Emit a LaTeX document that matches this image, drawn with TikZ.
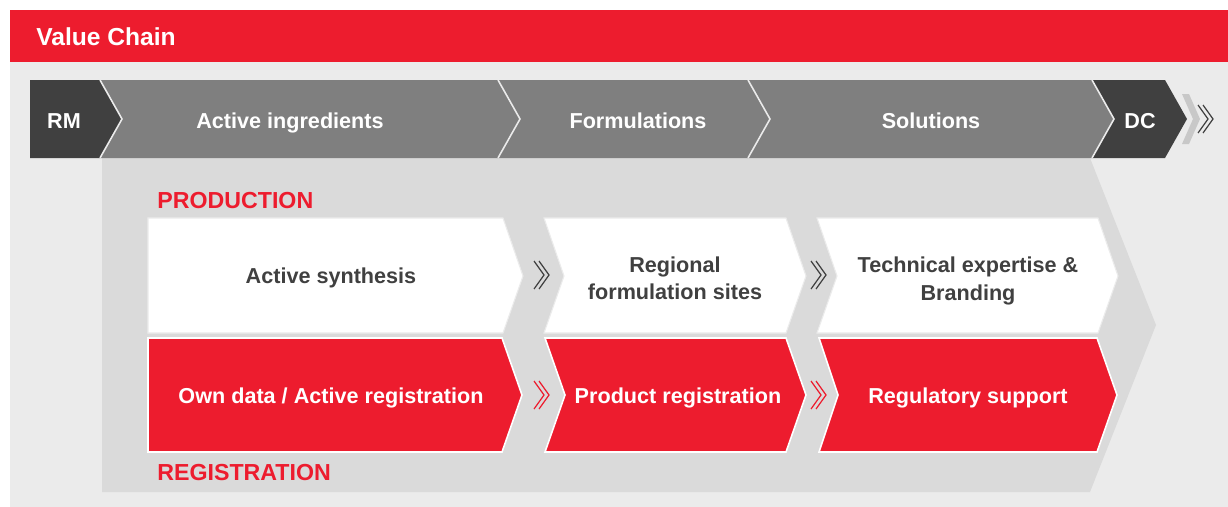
\documentclass[tikz,border=0pt]{standalone}
\usepackage{fontspec}
\setmainfont{Liberation Sans}
\usetikzlibrary{positioning}

\definecolor{vcred}{RGB}{237,28,46}
\definecolor{vcdark}{RGB}{64,64,64}
\definecolor{vcmid}{RGB}{127,127,127}
\definecolor{vcpanel}{RGB}{235,235,235}
\definecolor{vcarrow}{RGB}{218,218,218}
\definecolor{vcchev}{RGB}{200,200,200}

\tikzset{
  steplbl/.style={text=white, text height=8.8pt, text depth=0pt, font=\bfseries\fontsize{12.3}{14.5}\selectfont},
  boxlbl/.style={text=vcdark, align=center, font=\bfseries\fontsize{12.3}{15.5}\selectfont},
  onelbl/.style={text height=8.8pt, text depth=0pt},
  redlbl/.style={text=white, align=center, text height=8.8pt, text depth=0pt, font=\bfseries\fontsize{12.3}{15.5}\selectfont},
  rowhead/.style={anchor=west, inner sep=0pt, text=vcred, text height=9.5pt, text depth=0pt, font=\bfseries\fontsize{13.2}{15}\selectfont},
  whitebox/.style={fill=white, draw=vcpanel, line width=0.6pt},
  redbox/.style={fill=vcred, draw=white, line width=0.9pt},
  sepline/.style={draw=vcpanel, line width=0.9pt},
  dblchev/.pic={
    \draw[line width=0.7pt] (0,-14) -- (10,0) -- (0,14);
    \draw[line width=0.7pt] (5,-14) -- (15,0) -- (5,14);
  }
}

\begin{document}
\begin{tikzpicture}[x=0.02cm,y=-0.02cm]
  \useasboundingbox (0,0) rectangle (1228,507);
  % Background
  \fill[vcpanel] (10,62) rectangle (1228,507);
  \fill[vcred] (10,10) rectangle (1228,62);
  \node[anchor=west, inner sep=0pt, text=white, text height=10pt, text depth=0pt, font=\bfseries\fontsize{14}{16}\selectfont] (title) at (36,37) {Value Chain};

  % Big arrow behind the boxes
  \fill[vcarrow] (102,158) -- (1090,158) -- (1156,325) -- (1090,492) -- (102,492) -- cycle;

  % Top chain
  \fill[vcdark] (30,80) -- (100,80) -- (122,119) -- (100,158) -- (30,158) -- cycle;
  \fill[vcmid] (100,80) -- (498,80) -- (520,119) -- (498,158) -- (100,158) -- (122,119) -- cycle;
  \fill[vcmid] (498,80) -- (748,80) -- (770,119) -- (748,158) -- (498,158) -- (520,119) -- cycle;
  \fill[vcmid] (748,80) -- (1092,80) -- (1114,119) -- (1092,158) -- (748,158) -- (770,119) -- cycle;
  \fill[vcdark] (1092,80) -- (1165,80) -- (1187,119) -- (1165,158) -- (1092,158) -- (1114,119) -- cycle;
  \foreach \x in {100,498,748,1092}
    \draw[sepline] (\x,80) -- (\x+22,119) -- (\x,158);
  \fill[vcchev] (1182,94) -- (1189,94) -- (1200,119) -- (1189,144) -- (1182,144) -- (1193,119) -- cycle;
  \pic[color=vcdark] (endchev) at (1198,119) {dblchev};

  \node[steplbl] (rm) at (64,121) {RM};
  \node[steplbl] (active) at (290,121) {Active ingredients};
  \node[steplbl] (form) at (638,121) {Formulations};
  \node[steplbl] (sol) at (931,121) {Solutions};
  \node[steplbl] (dc) at (1140,121) {DC};

  % Production row
  \node[rowhead] (prod) at (157,200) {PRODUCTION};
  \draw[whitebox] (148,218) -- (503,218) -- (523,276) -- (503,333) -- (148,333) -- cycle;
  \draw[whitebox] (544,218) -- (786,218) -- (806,276) -- (786,333) -- (544,333) -- (564,276) -- cycle;
  \draw[whitebox] (817,218) -- (1098,218) -- (1118,276) -- (1098,333) -- (817,333) -- (837,276) -- cycle;
  \pic[color=vcdark] (pc1) at (534,275) {dblchev};
  \pic[color=vcdark] (pc2) at (811,275) {dblchev};
  \node[boxlbl, onelbl] (synth) at (331,276) {Active synthesis};
  \node[boxlbl] (regform) at (675,278) {Regional\\formulation sites};
  \node[boxlbl] (tech) at (968,281) {Technical expertise \&\\Branding};

  % Registration row
  \draw[redbox] (148,338) -- (502,338) -- (522,395) -- (502,452) -- (148,452) -- cycle;
  \draw[redbox] (545,338) -- (786,338) -- (806,395) -- (786,452) -- (545,452) -- (565,395) -- cycle;
  \draw[redbox] (819,338) -- (1097,338) -- (1117,395) -- (1097,452) -- (819,452) -- (838,395) -- cycle;
  \pic[color=vcred] (rc1) at (534,395) {dblchev};
  \pic[color=vcred] (rc2) at (811,395) {dblchev};
  \node[redlbl] (owndata) at (331,396) {Own data / Active registration};
  \node[redlbl] (prodreg) at (678,396) {Product registration};
  \node[redlbl] (regsup) at (968,396) {Regulatory support};
  \node[rowhead] (reg) at (157,472) {REGISTRATION};
\end{tikzpicture}
\end{document}
